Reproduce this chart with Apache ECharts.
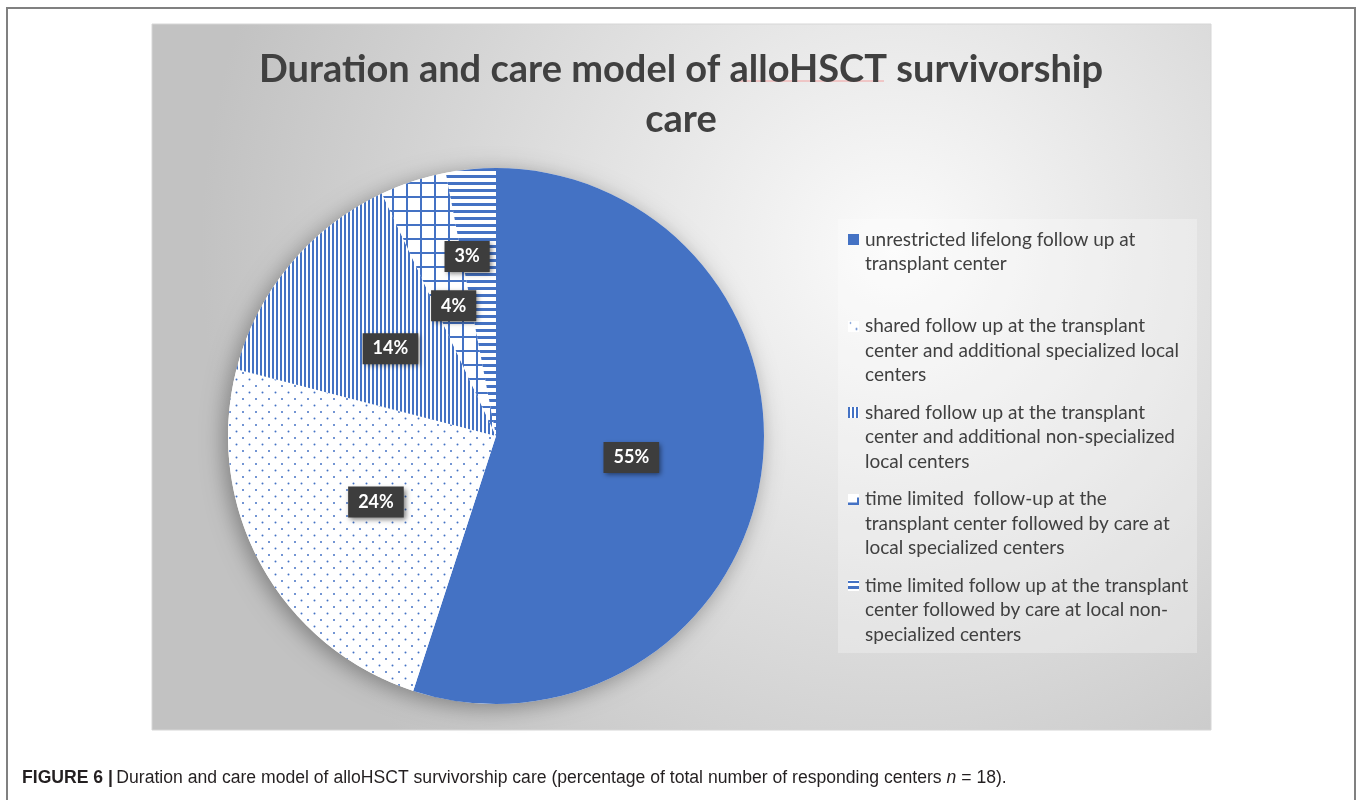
<!DOCTYPE html>
<html>
<head>
<meta charset="utf-8">
<script src="https://cdn.jsdelivr.net/npm/echarts@6/dist/echarts.min.js"></script>
<style>
  html, body { margin: 0; padding: 0; background: #fff; }
  #main { width: 1362px; height: 800px; }
</style>
</head>
<body>
<div id="main"></div>
<script>
// categories, values and wrapped legend lines
const categories = [
  'unrestricted lifelong follow up at transplant center',
  'shared follow up at the transplant center and additional specialized local centers',
  'shared follow up at the transplant center and additional non-specialized local centers',
  'time limited  follow-up at the transplant center followed by care at local specialized centers',
  'time limited follow up at the transplant center followed by care at local non-specialized centers'
];
const shares = [55, 24, 14, 4, 3];
const legendLines = [
  ['unrestricted lifelong follow up at', 'transplant center'],
  ['shared follow up at the transplant', 'center and additional specialized local', 'centers'],
  ['shared follow up at the transplant', 'center and additional non-specialized', 'local centers'],
  ['time limited  follow-up at the', 'transplant center followed by care at', 'local specialized centers'],
  ['time limited follow up at the transplant', 'center followed by care at local non-', 'specialized centers']
];
const titleText = 'Duration and care model of alloHSCT survivorship\ncare';

const BLUE = '#4472c4';
const FONT = 'Lato';

/**
 * small canvas tile used as a repeating fill
 */
function makeTile(w, h, draw) {
  const c = document.createElement('canvas');
  c.width = w;
  c.height = h;
  const ctx = c.getContext('2d');
  ctx.fillStyle = '#fff';
  ctx.fillRect(0, 0, w, h);
  ctx.fillStyle = BLUE;
  draw(ctx, w, h);
  return c;
}

const dotTile = makeTile(13, 13, (ctx) => {
  ctx.beginPath(); ctx.arc(2.5, 2.5, 1, 0, Math.PI * 2); ctx.fill();
  ctx.beginPath(); ctx.arc(9, 9, 1, 0, Math.PI * 2); ctx.fill();
});
const vlineTile = makeTile(4, 4, (ctx) => ctx.fillRect(0, 0, 2, 4));
const gridTile = makeTile(14, 14, (ctx) => {
  ctx.fillRect(0, 0, 2, 14);
  ctx.fillRect(0, 0, 14, 2);
});
const hlineTile = makeTile(7, 7, (ctx) => ctx.fillRect(0, 0, 7, 3));

const fills = [
  BLUE,
  { image: dotTile, repeat: 'repeat' },
  { image: vlineTile, repeat: 'repeat' },
  { image: gridTile, repeat: 'repeat' },
  { image: hlineTile, repeat: 'repeat' }
];

// legend swatches
const icons = [
  makeTile(11, 11, (ctx, w, h) => ctx.fillRect(0, 0, w, h)),
  makeTile(11, 11, (ctx) => {
    ctx.beginPath(); ctx.arc(8.5, 8.5, 1, 0, Math.PI * 2); ctx.fill();
    ctx.beginPath(); ctx.arc(2.5, 2.5, 0.8, 0, Math.PI * 2); ctx.fill();
  }),
  makeTile(11, 11, (ctx) => { ctx.fillRect(0, 0, 2, 11); ctx.fillRect(4, 0, 2, 11); ctx.fillRect(8, 0, 2, 11); }),
  makeTile(11, 11, (ctx) => { ctx.fillRect(0, 9, 11, 2); ctx.fillRect(9, 4, 2, 7); }),
  makeTile(11, 11, (ctx) => { ctx.fillRect(0, 1, 11, 2); ctx.fillRect(0, 6, 11, 3); })
];

const LH = 24.5;
const rich = {
  t: { fontFamily: FONT, fontSize: 19, color: '#404040', lineHeight: LH, verticalAlign: 'middle' },
  gap: { width: 6, lineHeight: LH },
  ind: { width: 17, lineHeight: LH }
};
icons.forEach((ic, i) => {
  rich['ic' + i] = {
    width: 11, height: 11, lineHeight: LH, verticalAlign: 'middle',
    backgroundColor: { image: ic }
  };
});

function legendText(name) {
  const i = categories.indexOf(name);
  const lines = legendLines[i];
  let s = '{ic' + i + '|}{gap|}{t|' + lines[0] + '}';
  for (let k = 1; k < lines.length; k++) {
    s += '\n{ind|}{t|' + lines[k] + '}';
  }
  // pad the two-line entry so every entry takes three lines
  for (let k = lines.length; k < 3; k++) {
    s += '\n{ind|}{t| }';
  }
  return s;
}

const chart = echarts.init(document.getElementById('main'), null, { renderer: 'canvas' });

chart.setOption({
  backgroundColor: '#fff',
  animation: false,
  title: {
    text: titleText,
    left: 'center',
    top: 40,
    textStyle: {
      fontFamily: FONT,
      fontSize: 38,
      fontWeight: 'bold',
      color: '#404040',
      lineHeight: 50
    }
  },
  legend: {
    orient: 'vertical',
    left: 843,
    top: 230,
    padding: 0,
    itemWidth: 0,
    itemHeight: 0,
    itemGap: 18.5,
    selectedMode: false,
    data: categories,
    formatter: legendText,
    textStyle: { rich: rich }
  },
  graphic: [
    {
      type: 'rect', z: -10, silent: true,
      shape: { x: 7, y: 8, width: 1348, height: 820 },
      style: { fill: '#fff', stroke: '#808080', lineWidth: 2 }
    },
    {
      type: 'rect', z: -9, silent: true,
      shape: { x: 152, y: 24, width: 1059, height: 706 },
      style: {
        fill: new echarts.graphic.RadialGradient(0.7, 0.32, 0.98, [
          { offset: 0, color: '#fbfbfb' },
          { offset: 1, color: '#c2c2c2' }
        ]),
        stroke: '#d6d6d6',
        lineWidth: 1
      }
    },
    {
      type: 'rect', z: -8, silent: true,
      shape: { x: 838, y: 219, width: 359, height: 434 },
      style: { fill: 'rgba(255,255,255,0.28)' }
    },
    {
      type: 'line', z: 5, silent: true,
      shape: { x1: 734, y1: 81, x2: 884, y2: 81 },
      style: { stroke: '#f2a0a0', lineWidth: 1 }
    },
    {
      type: 'text', silent: true,
      x: 22, y: 778,
      style: {
        text: '{b|FIGURE 6 |} {r|Duration and care model of alloHSCT survivorship care (percentage of total number of responding centers }{i|n}{r| = 18).}',
        verticalAlign: 'middle',
        rich: {
          b: { fontFamily: 'Liberation Sans', fontWeight: 'bold', fontSize: 17.6, fill: '#231f20' },
          r: { fontFamily: 'Liberation Sans', fontSize: 17.6, fill: '#231f20' },
          i: { fontFamily: 'Liberation Sans', fontStyle: 'italic', fontSize: 17.6, fill: '#231f20' }
        }
      }
    }
  ],
  series: [
    {
      // shadow under the pie
      type: 'pie',
      silent: true,
      center: [496, 436],
      radius: 268,
      label: { show: false },
      labelLine: { show: false },
      emphasis: { disabled: true },
      data: [{
        value: 1,
        itemStyle: {
          color: '#fff',
          shadowBlur: 22,
          shadowColor: 'rgba(0,0,0,0.35)',
          shadowOffsetX: -4,
          shadowOffsetY: 4
        }
      }]
    },
    {
      type: 'pie',
      center: [496, 436],
      radius: 268,
      startAngle: 90,
      clockwise: true,
      emphasis: { disabled: true },
      itemStyle: { borderWidth: 0 },
      label: {
        show: true,
        position: 'inside',
        formatter: '{c}%',
        fontFamily: FONT,
        fontSize: 18,
        fontWeight: 'bold',
        color: '#fff',
        backgroundColor: '#3d3d3d',
        padding: [7, 10, 6, 10],
        shadowBlur: 5,
        shadowColor: 'rgba(0,0,0,0.5)',
        shadowOffsetX: 2,
        shadowOffsetY: 2
      },
      labelLine: { show: false },
      labelLayout: function (params) {
        // the smallest slice label sits further out
        if (params.dataIndex === 4) {
          return { dx: -16, dy: -43 };
        }
        return {};
      },
      data: categories.map((name, i) => ({
        name: name,
        value: shares[i],
        itemStyle: { color: fills[i] }
      }))
    }
  ]
});
</script>
</body>
</html>
